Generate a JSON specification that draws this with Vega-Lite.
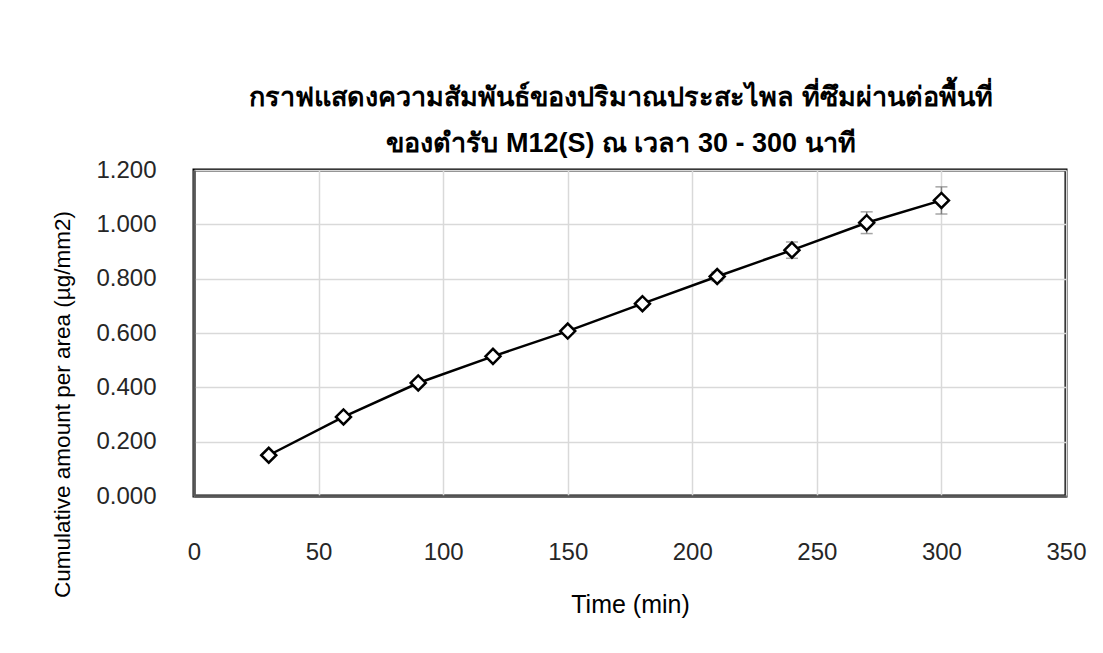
{
  "$schema": "https://vega.github.io/schema/vega-lite/v6.json",
  "autosize": "none",
  "width": 872,
  "height": 326,
  "padding": {"left": 194, "top": 170, "right": 37, "bottom": 157},
  "background": "white",
  "title": {
    "text": ["กราฟแสดงความสัมพันธ์ของปริมาณประสะไพล ที่ซึมผ่านต่อพื้นที่", "ของตำรับ M12(S) ณ เวลา 30 -  300 นาที"],
    "frame": "group",
    "anchor": "middle",
    "dx": -9,
    "offset": 0,
    "fontSize": 27,
    "fontWeight": "bold",
    "lineHeight": 46,
    "color": "black",
    "font": "Liberation Sans"
  },
  "data": {
    "values": [
      {"time": 30, "amount": 0.150, "sd": 0.005},
      {"time": 60, "amount": 0.291, "sd": 0.006},
      {"time": 90, "amount": 0.416, "sd": 0.007},
      {"time": 120, "amount": 0.514, "sd": 0.008},
      {"time": 150, "amount": 0.607, "sd": 0.010},
      {"time": 180, "amount": 0.708, "sd": 0.012},
      {"time": 210, "amount": 0.808, "sd": 0.016},
      {"time": 240, "amount": 0.905, "sd": 0.030},
      {"time": 270, "amount": 1.006, "sd": 0.040},
      {"time": 300, "amount": 1.088, "sd": 0.050}
    ]
  },
  "transform": [
    {"calculate": "datum.amount - datum.sd", "as": "lo"},
    {"calculate": "datum.amount + datum.sd", "as": "hi"}
  ],
  "encoding": {
    "x": {
      "field": "time",
      "type": "quantitative",
      "scale": {"domain": [0, 350], "nice": false},
      "axis": {
        "title": "Time (min)",
        "values": [0, 50, 100, 150, 200, 250, 300, 350],
        "ticks": false,
        "labelPadding": 44,
        "labelFont": "Liberation Sans",
        "labelFontSize": 24,
        "labelColor": "#262626",
        "labelFlush": false,
        "titleFont": "Liberation Sans",
        "titleFontSize": 25,
        "titleFontWeight": "normal",
        "titleColor": "#000000",
        "titlePadding": 28,
        "grid": true,
        "gridColor": "#d9d9d9",
        "gridWidth": 1.5,
        "domainColor": "#595959",
        "domainWidth": 2.5
      }
    },
    "y": {
      "field": "amount",
      "type": "quantitative",
      "scale": {"domain": [0, 1.2], "nice": false},
      "axis": {
        "title": "Cumulative amount per area (µg/mm2)",
        "values": [0, 0.2, 0.4, 0.6, 0.8, 1.0, 1.2],
        "format": ".3f",
        "ticks": false,
        "labelPadding": 38,
        "labelFont": "Liberation Sans",
        "labelFontSize": 24,
        "labelColor": "#262626",
        "titleFont": "Liberation Sans",
        "titleFontSize": 22.5,
        "titleFontWeight": "normal",
        "titleColor": "#000000",
        "titleX": -132,
        "titleY": 234,
        "titleBaseline": "middle",
        "titleAlign": "center",
        "grid": true,
        "gridColor": "#d9d9d9",
        "gridWidth": 1.5,
        "domainColor": "#595959",
        "domainWidth": 2.5
      }
    }
  },
  "layer": [
    {
      "mark": {"type": "rule", "color": "#7f7f7f", "strokeWidth": 1.5},
      "encoding": {"y": {"field": "lo", "type": "quantitative"}, "y2": {"field": "hi"}}
    },
    {
      "mark": {"type": "tick", "orient": "horizontal", "color": "#7f7f7f", "thickness": 1.5, "size": 12},
      "encoding": {"y": {"field": "lo", "type": "quantitative"}}
    },
    {
      "mark": {"type": "tick", "orient": "horizontal", "color": "#7f7f7f", "thickness": 1.5, "size": 12},
      "encoding": {"y": {"field": "hi", "type": "quantitative"}}
    },
    {
      "mark": {"type": "line", "color": "black", "strokeWidth": 2.5}
    },
    {
      "mark": {"type": "point", "shape": "diamond", "size": 225, "filled": true, "fill": "white", "stroke": "black", "strokeWidth": 2.5, "opacity": 1}
    }
  ],
  "config": {
    "view": {"stroke": "black", "strokeWidth": 3},
    "font": "Liberation Sans"
  }
}
